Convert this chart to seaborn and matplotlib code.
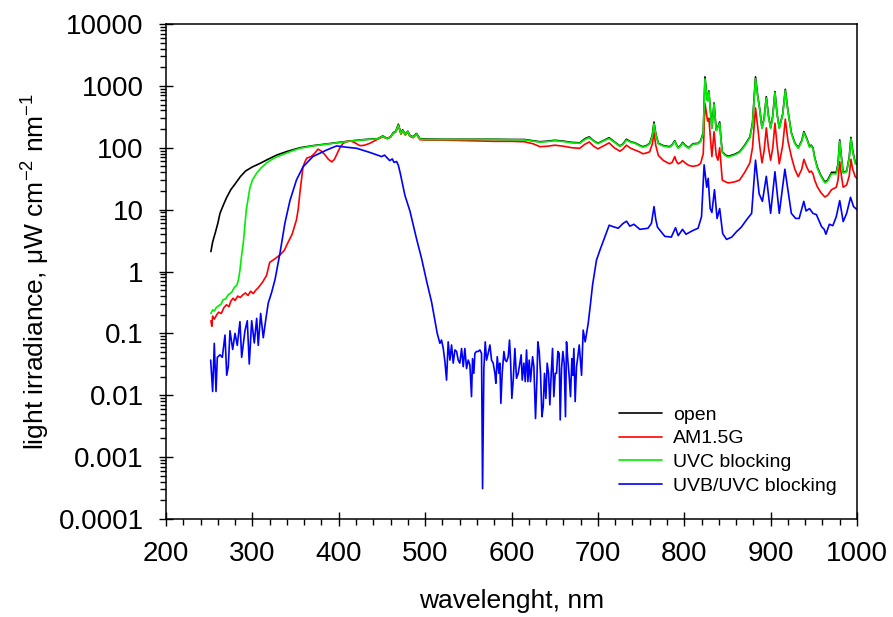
import numpy as np
import pandas as pd
import matplotlib
matplotlib.use("Agg")
import matplotlib.pyplot as plt
import seaborn as sns
from matplotlib.ticker import FixedLocator, FixedFormatter, MultipleLocator, NullFormatter, LogLocator

# ---------------- data ----------------
series_names = ["open", "AM1.5G", "UVC blocking", "UVB/UVC blocking"]
series_colors = ["#000000", "#ff0000", "#00ee00", "#0000ff"]

open_wl = [252, 254, 257, 260, 262.5, 266, 270, 275, 280, 286, 292, 300, 309, 318, 328, 340, 355, 370,
           386, 400, 412, 425, 437, 445, 451, 456, 460, 463, 466, 469, 472, 474, 477, 480, 482, 486, 490,
           494, 502, 520, 550, 580, 600, 615, 625, 633, 642, 650, 660, 670, 679, 685, 690, 695, 700, 706,
           713, 719, 725.5, 729, 733, 738, 743, 748, 752, 756, 760, 763, 765, 767, 770, 776, 783, 786,
           789, 791, 793, 796, 798, 801, 805, 810, 816, 819, 822, 824, 826, 827, 828.5, 830, 832, 834.5,
           837, 839, 841, 842.5, 844, 848, 851, 858, 864, 870, 876, 879, 882.5, 885, 887.5, 890, 892.5,
           895, 897.5, 900, 902.5, 905, 907.5, 910, 914, 917, 920, 924, 928, 932, 936, 938.5, 942, 945,
           947, 949, 951, 954, 958, 962.7, 966, 970.5, 976, 978, 980, 982, 984, 988, 991, 993, 995, 998,
           1000]
open_val = [2.1, 3.0, 4.2, 6.0, 8.7, 11.5, 15.5, 21, 26, 34, 42, 49, 56, 65, 76, 87, 100, 108,
            115, 122, 128, 134, 138, 140, 155, 142, 150, 175, 185, 240, 170, 195, 165, 185, 160, 150, 170,
            140, 138, 137, 137, 137, 136, 136, 130, 125, 128, 132, 128, 122, 120, 140, 150, 130, 118, 130,
            145, 125, 107, 115, 137, 125, 120, 110, 104, 108, 118, 160, 260, 170, 118, 108, 104, 112,
            130, 112, 100, 110, 122, 110, 100, 116, 118, 130, 175, 1400, 700, 590, 830, 450, 210, 530,
            193, 220, 262, 140, 86, 76, 73, 78, 86, 110, 150, 250, 1400, 700, 410, 210, 300,
            670, 330, 210, 330, 810, 350, 210, 350, 880, 400, 175, 120, 100, 130, 182, 140, 105,
            110, 100, 70, 49, 36, 28, 30, 40, 40, 55, 134, 70, 40, 42, 70, 147, 90, 57,
            55]

am15_wl = [252, 253, 254, 256, 258.7, 261, 264, 267, 270, 273, 275, 277.7, 280, 283, 286, 289, 292, 295,
           298, 301, 304, 307, 309, 312, 316.5, 320, 326, 332, 337, 341, 346, 351, 353, 355, 357, 358.6,
           361, 363, 368, 372, 376, 380, 384, 388, 392, 395, 397.5, 401, 405, 409, 413, 418, 424.5, 430,
           436, 444, 451, 456, 460, 463, 466, 469, 472, 474, 477, 480, 482, 486, 490, 494, 502, 520, 550,
           580, 600, 615, 625, 633, 642, 650, 660, 670, 679, 685, 690, 695, 700, 706, 713, 719, 725.5,
           729, 733, 738, 743, 748, 752, 756, 760, 763, 765, 767, 770, 776, 783, 786, 789, 791, 793, 796,
           798, 801, 805, 810, 816, 819, 822, 824, 826, 827, 828.5, 830, 832, 834.5, 837, 839, 841,
           842.5, 844, 848, 851, 858, 864, 870, 876, 879, 882.5, 885, 887.5, 890, 892.5, 895, 897.5,
           900, 902.5, 905, 907.5, 910, 914, 917, 920, 924, 928, 932, 936, 938.5, 942, 945, 947, 949,
           951, 954, 958, 962.7, 966, 970.5, 976, 978, 980, 982, 984, 988, 991, 993, 995, 998, 1000]
am15_val = [0.16, 0.13, 0.19, 0.17, 0.2, 0.22, 0.21, 0.26, 0.29, 0.27, 0.33, 0.37, 0.34, 0.4, 0.38, 0.42,
            0.45, 0.41, 0.48, 0.44, 0.5, 0.55, 0.6, 0.68, 0.87, 1.4, 1.6, 1.85, 2.2, 2.9, 4.0, 6.8, 10,
            18.6, 32, 49, 60, 68, 72, 81, 95, 88, 77, 65, 59, 65, 77, 98, 118, 125, 130, 122, 108, 110,
            118, 135, 150, 140, 148, 170, 180, 230, 165, 190, 160, 180, 155, 145, 165, 135, 133, 133,
            130, 127, 127, 125, 116, 104, 106, 110, 106, 100, 98, 114, 124, 106, 96, 106, 120, 100, 88,
            95, 110, 98, 92, 86, 80, 82, 86, 115, 175, 110, 75, 62, 55, 58, 72, 60, 55, 58,
            62, 57, 52, 50, 52, 56, 80, 520, 330, 270, 300, 160, 72, 182, 75, 63, 100,
            55, 30, 28, 27, 28, 30, 40, 57, 100, 440, 220, 104, 57, 90, 210, 100,
            63, 100, 250, 110, 55, 110, 290, 130, 72, 45, 34, 45, 65, 48, 40, 42, 38,
            30, 23.5, 19, 16, 17, 21, 23, 30, 60, 35, 23, 25, 35, 65, 45, 34, 32]

uvc_wl = [252, 254, 256, 258, 261, 264, 266, 269, 272, 276, 279, 282, 284, 285.6, 287.5, 289.5, 291, 293,
          295, 297, 300, 305, 310, 316.5, 325, 335.5, 347, 355, 370, 386, 400, 412, 425, 437, 445, 451,
          456, 460, 463, 466, 469, 472, 474, 477, 480, 482, 486, 490, 494, 502, 520, 550, 580, 600, 615,
          625, 633, 642, 650, 660, 670, 679, 685, 690, 695, 700, 706, 713, 719, 725.5, 729, 733, 738,
          743, 748, 752, 756, 760, 763, 765, 767, 770, 776, 783, 786, 789, 791, 793, 796, 798, 801, 805,
          810, 816, 819, 822, 824, 826, 827, 828.5, 830, 832, 834.5, 837, 839, 841, 842.5, 844, 848, 851,
          858, 864, 870, 876, 879, 882.5, 885, 887.5, 890, 892.5, 895, 897.5, 900, 902.5, 905, 907.5,
          910, 914, 917, 920, 924, 928, 932, 936, 938.5, 942, 945, 947, 949, 951, 954, 958, 962.7, 966,
          970.5, 976, 978, 980, 982, 984, 988, 991, 993, 995, 998, 1000]
uvc_val = [0.21, 0.24, 0.23, 0.26, 0.28, 0.3, 0.35, 0.36, 0.42, 0.46, 0.55, 0.6, 0.75, 1.05, 1.8, 2.9, 5,
           10, 15, 22, 30, 39, 47, 57, 68, 78, 90, 98, 107, 114, 121, 127, 133, 137, 139, 153,
           141, 148, 172, 182, 232, 168, 190, 163, 182, 158, 148, 167, 138, 136, 136, 136, 136, 135, 134,
           128, 123, 126, 130, 126, 120, 118, 136, 146, 128, 116, 128, 141, 123, 105, 113, 133, 123,
           118, 108, 102, 106, 116, 155, 245, 165, 116, 106, 102, 110, 127, 110, 98, 108, 119, 108, 98,
           114, 116, 127, 170, 1300, 680, 570, 800, 440, 205, 510, 188, 215, 250, 137, 84, 74, 71,
           76, 84, 107, 146, 240, 1300, 680, 400, 205, 290, 640, 320, 205, 320, 780, 340,
           205, 340, 840, 390, 170, 117, 98, 126, 175, 136, 102, 107, 97, 68, 47, 35, 27, 29,
           38, 38, 53, 128, 68, 39, 41, 68, 140, 87, 55, 53]

uvbc_wl = [251.7, 254, 255.9, 257.9, 259.4, 262.5, 265.2, 268.3, 270.3, 272.1, 273, 274.1, 277.2, 279.9,
           282.5, 285.6, 287.6, 291.4, 294.1, 296.4, 299.2, 302.2, 305, 306.8, 309.6, 312.6, 315.7, 318.4,
           322.3, 326.2, 332, 337.7, 343.5, 351, 358.6, 370, 386, 397.5, 409, 420.7, 436, 449.6, 453, 459,
           462, 464, 467, 469, 471, 476.6, 482.4, 490, 496, 501.7, 507.5, 511, 514,
           517.1, 519.0, 521.0, 522.9, 524.8, 526.7, 528.7, 530.6, 532.5, 534.5, 536.4, 538.3, 540.2,
           542.2, 544.1, 546.0, 548.0, 549.9, 551.8, 553.7, 554.9, 556.4, 557.6, 559.5, 561.5, 563.4,
           565.3, 566.5, 568.0, 569.6, 571.1, 573.0, 575.0, 576.9, 578.8, 580.8, 581.9, 583.5, 585.4,
           586.5, 587.7, 589.2, 591.2, 592.7, 594.3, 596.2, 597.7, 598.9, 600.4, 602.0, 603.9, 605.8,
           607.8, 609.7, 611.2, 612.4, 614.3, 615.9, 617.4, 619.0, 620.5, 622.0, 624.4, 625.9, 627.8,
           629.4, 630.5, 632.1, 633.6, 635.2, 636.7, 638.2, 639.8, 641.3, 642.9, 644.4, 646.0, 647.5,
           649.0, 650.6, 652.1, 653.7, 655.2, 656.4, 657.9, 659.5, 661.0, 662.5, 663.7, 665.2, 666.8,
           668.3, 669.9, 671.0, 672.2, 673.7, 675.3, 676.8, 678.4, 679.5, 681.1, 683.0, 685.3, 688.8,
           691.5, 693.8, 698.4, 702.3, 708.1, 713.1, 717.7, 723.5, 729.3, 733.2, 737.0, 741.7, 748.6,
           758, 762, 765, 767, 769, 777.5, 785, 789.9, 793, 798, 802, 810, 816, 820, 823, 826, 827.7,
           830, 832, 835, 838, 841, 844.5, 849, 855, 860.5, 866, 872, 878, 882.5, 886.7, 890.5, 895,
           900, 905, 910, 916.5, 924, 929, 933, 938.4, 941, 945, 949, 953, 959, 962, 964, 968, 972, 976,
           980, 984, 988, 992.5, 996, 1000]
uvbc_val = [0.037, 0.0115, 0.069, 0.0115, 0.041, 0.045, 0.041, 0.094, 0.021, 0.029, np.nan, 0.11, 0.055,
            0.1, 0.064, 0.155, 0.041, 0.11, 0.16, 0.032, 0.16, 0.07, 0.175, 0.064, 0.21, 0.085, 0.175,
            0.31, 0.46, 0.74, 2.0, 6.1, 14, 30, 49, 72, 92, 107, 102, 98, 84, 72, 76, 62,
            66, 58, 60, 52, 40, 17, 9.5, 3.4, 1.6, 0.7, 0.32, 0.17, 0.1,
            0.069, 0.078, 0.057, 0.035, 0.0176, 0.073, 0.037, 0.065, 0.033, 0.054, 0.051, 0.037, 0.033,
            0.057, 0.029, 0.057, 0.027, 0.037, 0.031, 0.0095, 0.039, 0.0226, 0.0475, 0.051, 0.051, 0.054,
            0.0475, 0.00031, 0.027, 0.073, 0.037, 0.0475, 0.065, 0.037, 0.033, 0.0226, 0.0156, 0.042,
            0.0226, 0.033, 0.0074, 0.0226, 0.051, 0.037, 0.035, 0.042, 0.078, 0.037, 0.0089, 0.0176,
            0.057, 0.0188, 0.0226, 0.033, 0.045, 0.0176, 0.033, 0.0166, 0.054, 0.0166, 0.037, 0.0166,
            0.042, 0.029, 0.0042, 0.0176, 0.073, 0.051, 0.0226, 0.0045, 0.0065, 0.0226, 0.0089, 0.033,
            0.0226, 0.0070, 0.0226, 0.057, 0.0095, 0.0226, 0.0226, 0.051, 0.0475, 0.0040, 0.027, 0.051,
            0.033, 0.0045, 0.073, 0.037, 0.020, 0.0095, 0.039, 0.021, 0.057, 0.0079, 0.029, 0.042, 0.065,
            np.nan, 0.021, 0.113, 0.073, 0.145, 0.305, 0.6, 1.53, 2.2, 3.65, 5.6, 5.3, 5.0, 6.0, 6.5,
            5.4, 5.8, 4.8, 5.0, 6.0, 11.2, 7.0, 5.2, 3.7, 3.6, 5.1, 3.8, 4.8, 4.0, 4.6, 5.0, 7.7, 53, 23,
            32, 10.4, 9, 21, 7.2, 10.4, 4.1, 3.3, 3.6, 4.4, 5.2, 6.8, 8.7, 63, 18, 13.6, 34.5, 8.7, 41,
            8.7, 45, 8.7, 7.2, 7.2, 13.6, 9.5, 10.4, 8.7, 8.3, 5.3, 4.8, 4.0, 5.8, 5.5, 7.7, 14, 6.4,
            8.7, 15.8, 11.2, 10]

x_ticks = [200, 300, 400, 500, 600, 700, 800, 900, 1000]
y_ticks = [0.0001, 0.001, 0.01, 0.1, 1, 10, 100, 1000, 10000]
y_tick_labels = ["0.0001", "0.001", "0.01", "0.1", "1", "10", "100", "1000", "10000"]

# ---------------- figure ----------------
sns.set_theme(style="ticks")
plt.rcParams["font.family"] = ["Liberation Sans", "DejaVu Sans"]
plt.rcParams["text.color"] = "black"
plt.rcParams["axes.labelcolor"] = "black"
plt.rcParams["xtick.color"] = "black"
plt.rcParams["ytick.color"] = "black"
plt.rcParams["mathtext.fontset"] = "custom"
plt.rcParams["mathtext.rm"] = "Liberation Sans"
plt.rcParams["mathtext.it"] = "Liberation Sans"

fig = plt.figure(figsize=(8.93, 6.17), dpi=100)
ax = fig.add_axes([166 / 893, 1 - 519 / 617, (857 - 166) / 893, (519 - 24) / 617])

frames = []
for name, wl, val in [("open", open_wl, open_val), ("AM1.5G", am15_wl, am15_val),
                      ("UVC blocking", uvc_wl, uvc_val), ("UVB/UVC blocking", uvbc_wl, uvbc_val)]:
    frames.append(pd.DataFrame({"wavelength": wl, "irradiance": val, "series": name}))

widths = {"open": 2.0, "AM1.5G": 1.1, "UVC blocking": 1.3, "UVB/UVC blocking": 1.2}
for name, color in zip(series_names, series_colors):
    df = frames[series_names.index(name)]
    sns.lineplot(data=df, x="wavelength", y="irradiance", color=color, lw=widths[name],
                 sort=False, estimator=None, ax=ax, label=name)

ax.set_yscale("log")
ax.set_xlim(200, 1000)
ax.set_ylim(0.0001, 10000)
ax.xaxis.set_major_locator(FixedLocator(x_ticks))
ax.xaxis.set_minor_locator(MultipleLocator(20))
ax.yaxis.set_major_locator(FixedLocator(y_ticks))
ax.yaxis.set_major_formatter(FixedFormatter(y_tick_labels))
ax.yaxis.set_minor_locator(LogLocator(base=10, subs=(2, 3, 4, 5, 6, 7, 8, 9), numticks=100))
ax.yaxis.set_minor_formatter(NullFormatter())

ax.tick_params(which="major", direction="inout", length=10, width=1.0, color="black",
               labelsize=20, pad=11, left=True, bottom=True, top=False, right=False, labelcolor="black")
ax.tick_params(which="minor", direction="out", length=4, width=1.0, color="black",
               left=True, bottom=True, top=False, right=False)
for s in ax.spines.values():
    s.set_color("black")
    s.set_linewidth(1.1)

ax.set_xlabel("wavelenght, nm", fontsize=19, color="black", labelpad=16)
ax.set_ylabel(r"light irradiance, $\mu$W cm$^{-2}$ nm$^{-1}$", fontsize=19, color="black", labelpad=5)

handles, labels = ax.get_legend_handles_labels()
for h in handles:
    h.set_linewidth(1.2)
leg = ax.legend(handles, labels, loc="upper left", bbox_to_anchor=(619 / 893, 1 - 406 / 617),
                bbox_transform=fig.transFigure, frameon=False, fontsize=14, handlelength=2.2,
                handletextpad=0.6, labelspacing=0.32, borderpad=0, borderaxespad=0)
for t in leg.get_texts():
    t.set_color("black")

fig.savefig("out.png", dpi=100)
